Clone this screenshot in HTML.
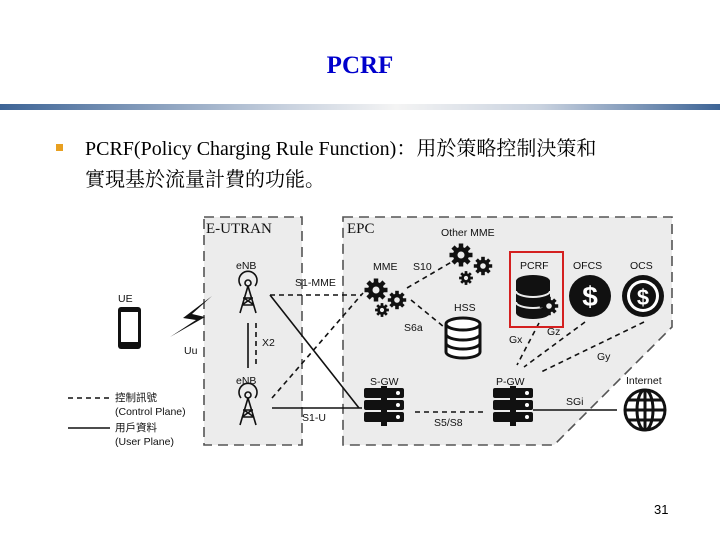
<!DOCTYPE html>
<html><head><meta charset="utf-8"><style>
body{margin:0;width:720px;height:540px;background:#fff;overflow:hidden;position:relative;font-family:"Liberation Serif","Noto Serif CJK SC",serif}
.t{position:absolute;}
</style></head><body>
<div class="t" style="left:0;width:720px;top:52px;text-align:center;font-size:25px;font-weight:bold;color:#0000cc">PCRF</div>
<div class="t" style="left:0;top:104px;width:720px;height:6px;background:linear-gradient(90deg,#3d6496 0%,#c9d2df 40%,#f4f4f4 55%,#c9d2df 75%,#3d6496 100%)"></div>
<div class="t" style="left:56px;top:144px;width:7px;height:7px;background:#e8a020"></div>
<div class="t" style="left:85px;top:134px;font-size:20px;line-height:31px;color:#000;font-family:'Liberation Serif','Noto Serif CJK SC',serif">PCRF(Policy Charging Rule Function)：用於策略控制決策和<br>實現基於流量計費的功能。</div>
<div class="t" style="left:654px;top:502px;font-size:13px;font-family:'Liberation Sans',sans-serif">31</div>
<svg class="t" style="left:0;top:0" width="720" height="540" viewBox="0 0 720 540" font-family="Liberation Sans, Noto Sans CJK TC, sans-serif" font-size="10.5">
<defs>
<g id="gr"><circle cx="0" cy="0" r="8"/><g stroke="#111" stroke-width="4.5"><line x1="-11.5" y1="0" x2="11.5" y2="0"/><line x1="0" y1="-11.5" x2="0" y2="11.5"/><line x1="-8" y1="-8" x2="8" y2="8"/><line x1="-8" y1="8" x2="8" y2="-8"/></g><circle r="3.5" fill="#ececec"/></g>
</defs>
<g fill="#ececec" stroke="#555" stroke-width="1.6" stroke-dasharray="10,6">
<rect x="204" y="217" width="98" height="228"/>
<path d="M343 217 H672 V327 L554 445 H343 Z"/>
</g>
<g font-family="Liberation Serif, serif" font-size="15" fill="#111">
<text x="206" y="233">E-UTRAN</text><text x="347" y="233">EPC</text></g>
<g stroke="#111" stroke-width="1.6" fill="none">
<line x1="270" y1="295" x2="359" y2="408"/>
<line x1="272" y1="408" x2="362" y2="408"/>
<line x1="248" y1="323" x2="248" y2="368"/>
<line x1="533" y1="410" x2="617" y2="410"/>
<line x1="68" y1="428" x2="110" y2="428"/>
</g>
<g stroke="#111" stroke-width="1.6" fill="none" stroke-dasharray="5,4">
<line x1="256" y1="323" x2="256" y2="368"/>
<line x1="270" y1="295" x2="361" y2="295"/>
<line x1="272" y1="398" x2="363" y2="293"/>
<line x1="407" y1="288" x2="455" y2="260"/>
<line x1="411" y1="300" x2="444" y2="327"/>
<line x1="539" y1="323" x2="517" y2="365"/>
<line x1="585" y1="322" x2="524" y2="367"/>
<line x1="644" y1="322" x2="539" y2="373"/>
<line x1="415" y1="412" x2="487" y2="412"/>
<line x1="68" y1="398" x2="110" y2="398"/>
</g>
<g fill="#111">
<text x="118" y="302">UE</text><text x="184" y="354">Uu</text>
<text x="236" y="269">eNB</text><text x="236" y="384">eNB</text>
<text x="262" y="346">X2</text><text x="295" y="286">S1-MME</text>
<text x="302" y="421">S1-U</text><text x="373" y="270">MME</text>
<text x="413" y="270">S10</text><text x="441" y="236">Other MME</text>
<text x="454" y="311">HSS</text><text x="404" y="331">S6a</text>
<text x="520" y="269">PCRF</text><text x="573" y="269">OFCS</text><text x="630" y="269">OCS</text>
<text x="509" y="343">Gx</text><text x="547" y="335">Gz</text><text x="597" y="360">Gy</text>
<text x="370" y="385">S-GW</text><text x="496" y="385">P-GW</text><text x="626" y="384">Internet</text>
<text x="434" y="426">S5/S8</text><text x="566" y="405">SGi</text>
<text x="115" y="401">控制訊號</text><text x="115" y="415">(Control Plane)</text>
<text x="115" y="431">用戶資料</text><text x="115" y="445">(User Plane)</text>
</g>
<rect x="118" y="307" width="23" height="42" rx="3" fill="#111"/><rect x="121" y="312" width="17" height="30" fill="#fff"/>
<path d="M212 296 L183 318 L196 320 L170 337 L205 317 L192 314 Z" fill="#111"/>
<g stroke="#111" stroke-width="1.6" fill="none">
<g id="tw"><circle cx="248" cy="283" r="3"/><path d="M241 286 A9 9 0 1 1 255 286"/><path d="M248 286 L240 313 M248 286 L256 313 M243 298 L253 298 M242 305 L254 305 M244 298 L254 305 M252 298 L242 305"/></g>
<use href="#tw" transform="translate(0,112)"/>
</g>
<g fill="#111">
<use href="#gr" transform="translate(376,290)"/><use href="#gr" transform="translate(397,300) scale(.8)"/><use href="#gr" transform="translate(382,310) scale(.6)"/>
<use href="#gr" transform="translate(461,255)"/><use href="#gr" transform="translate(483,266) scale(.8)"/><use href="#gr" transform="translate(466,278) scale(.6)"/>
</g>
<g fill="#fff" stroke="#111" stroke-width="3">
<path d="M446 324 V352 A17 6 0 0 0 480 352 V324"/><ellipse cx="463" cy="324" rx="17" ry="6"/>
<path d="M446 334 A17 6 0 0 0 480 334 M446 343 A17 6 0 0 0 480 343" fill="none"/>
</g>
<rect x="510" y="252" width="53" height="75" fill="none" stroke="#d42020" stroke-width="2"/>
<g fill="#111"><ellipse cx="533" cy="281" rx="17" ry="6"/><rect x="516" y="281" width="34" height="32"/><ellipse cx="533" cy="313" rx="17" ry="6"/></g>
<g stroke="#ececec" stroke-width="2" fill="none"><path d="M516 291 A17 6 0 0 0 550 291 M516 302 A17 6 0 0 0 550 302"/></g>
<g fill="#111"><use href="#gr" transform="translate(549,306) scale(.8)"/></g>
<circle cx="590" cy="296" r="21" fill="#111"/><text x="590" y="306" font-size="28" font-weight="bold" fill="#fff" text-anchor="middle">$</text>
<circle cx="643" cy="296" r="21" fill="#111"/><circle cx="643" cy="296" r="16" fill="#fff"/><circle cx="643" cy="296" r="13" fill="#111"/><text x="643" y="305" font-size="22" font-weight="bold" fill="#fff" text-anchor="middle">$</text>
<g id="sv" fill="#111"><rect x="364" y="388" width="40" height="10" rx="2"/><rect x="364" y="400" width="40" height="10" rx="2"/><rect x="364" y="412" width="40" height="10" rx="2"/><rect x="381" y="386" width="6" height="40"/>
<circle cx="398" cy="393" r="2" fill="#fff"/><circle cx="398" cy="405" r="2" fill="#fff"/><circle cx="398" cy="417" r="2" fill="#fff"/></g>
<use href="#sv" transform="translate(129,0)"/>
<g stroke="#111" stroke-width="3" fill="none"><circle cx="645" cy="410" r="20"/><ellipse cx="645" cy="410" rx="8" ry="20"/><line x1="645" y1="390" x2="645" y2="430"/><line x1="625" y1="410" x2="665" y2="410"/><line x1="628" y1="400" x2="662" y2="400"/><line x1="628" y1="420" x2="662" y2="420"/></g>
</svg>
</body></html>
